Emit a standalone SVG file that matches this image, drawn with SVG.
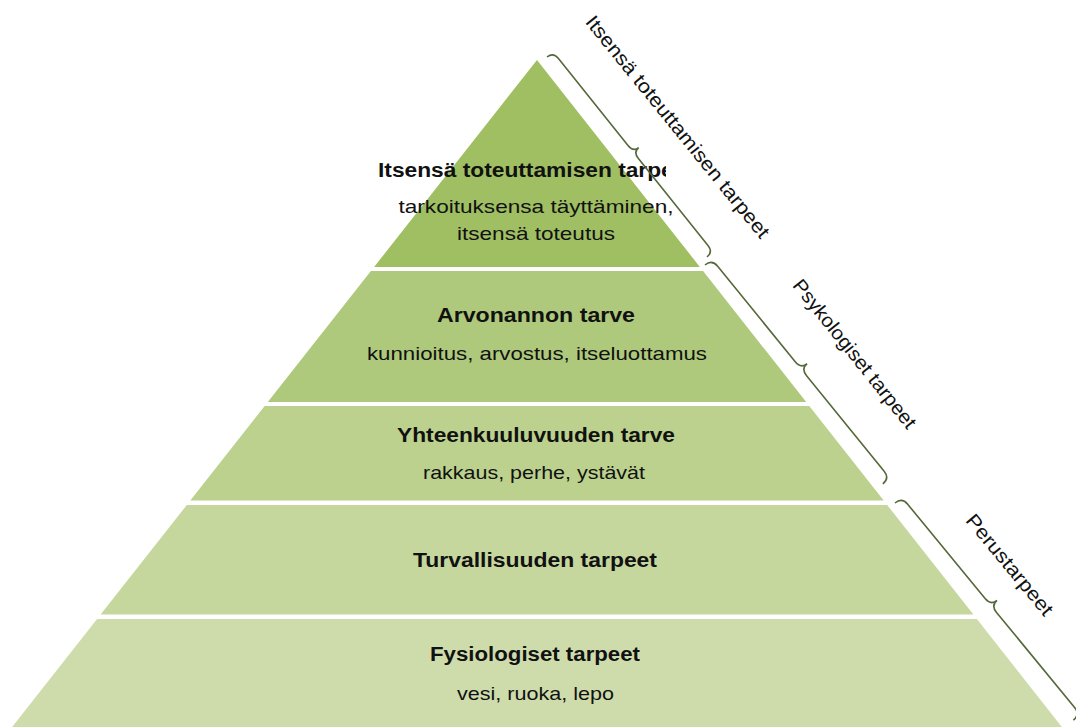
<svg xmlns="http://www.w3.org/2000/svg" width="1076" height="727" viewBox="0 0 1076 727">
<defs>
<style>
.t{font-family:"Liberation Sans",Arial,sans-serif;fill:#111;text-anchor:middle}
.b{font-weight:bold;font-size:20px}
.r{font-size:19px}
.lab{font-family:"Liberation Sans",Arial,sans-serif;fill:#111;font-size:19.5px;text-anchor:middle}
.brace{fill:none;stroke:#55683a;stroke-width:1.6}
</style>
<clipPath id="clipTop"><rect x="0" y="0" width="666" height="727"/></clipPath>
</defs>
<rect width="1076" height="727" fill="#ffffff"/>
<g id="layer1">
<polygon points="537,60 699.9,267 374.1,267" fill="#a0bf63"/>
<text class="t b" x="536" y="177" textLength="316" lengthAdjust="spacingAndGlyphs" clip-path="url(#clipTop)">Itsensä toteuttamisen tarpeet</text>
<text class="t r" x="536" y="213" textLength="275" lengthAdjust="spacingAndGlyphs">tarkoituksensa täyttäminen,</text>
<text class="t r" x="536" y="240" textLength="158" lengthAdjust="spacingAndGlyphs">itsensä toteutus</text>
</g>
<g id="layer2">
<polygon points="370.9,271 703.1,271 806.2,402 267.8,402" fill="#aec97b"/>
<text class="t b" x="536" y="322" textLength="198" lengthAdjust="spacingAndGlyphs">Arvonannon tarve</text>
<text class="t r" x="537" y="360" textLength="340" lengthAdjust="spacingAndGlyphs">kunnioitus, arvostus, itseluottamus</text>
</g>
<g id="layer3">
<polygon points="264.7,406 809.3,406 883.7,500.5 190.3,500.5" fill="#bbd18d"/>
<text class="t b" x="536" y="442" textLength="278" lengthAdjust="spacingAndGlyphs">Yhteenkuuluvuuden tarve</text>
<text class="t r" x="534" y="479" textLength="222" lengthAdjust="spacingAndGlyphs">rakkaus, perhe, ystävät</text>
</g>
<g id="layer4">
<polygon points="186.8,505 887.2,505 973.4,614.5 100.6,614.5" fill="#c5d79d"/>
<text class="t b" x="535" y="567" textLength="244" lengthAdjust="spacingAndGlyphs">Turvallisuuden tarpeet</text>
</g>
<g id="layer5">
<polygon points="97.1,619 976.9,619 1061.9,727 12.1,727" fill="#cedcac"/>
<text class="t b" x="535" y="661" textLength="210" lengthAdjust="spacingAndGlyphs">Fysiologiset tarpeet</text>
<text class="t r" x="535.5" y="700" textLength="157" lengthAdjust="spacingAndGlyphs">vesi, ruoka, lepo</text>
</g>
<g id="connectors">
<path class="brace" transform="translate(547,57) rotate(51.34)" d="M0,0 Q0,-8 8,-8 L120,-8 Q128,-8 128,-15 Q128,-8 136,-8 L248,-8 Q256,-8 256,0"/>
<path class="brace" transform="translate(705,265) rotate(50.9)" d="M0,0 Q0,-9 9,-9 L132,-9 Q141,-9 141,-17 Q141,-9 150,-9 L273,-9 Q282,-9 282,0"/>
<path class="brace" transform="translate(895,503) rotate(50.6)" d="M0,0 Q0,-9 9,-9 L131,-9 Q140,-9 140,-17 Q140,-9 149,-9 L272,-9 Q281,-9 281,0"/>
</g>
<g id="label-itsensa">
<text class="lab" transform="translate(672.5,131) rotate(51)" textLength="280" lengthAdjust="spacingAndGlyphs">Itsensä toteuttamisen tarpeet</text>
</g>
<g id="label-psykologiset">
<text class="lab" transform="translate(849.5,358) rotate(51.3)" textLength="185" lengthAdjust="spacingAndGlyphs">Psykologiset tarpeet</text>
</g>
<g id="label-perustarpeet">
<text class="lab" transform="translate(1004.5,569) rotate(50.5)" textLength="125" lengthAdjust="spacingAndGlyphs">Perustarpeet</text>
</g>
</svg>
